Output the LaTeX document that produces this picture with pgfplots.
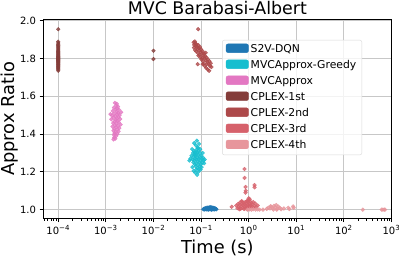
\documentclass[border=0pt]{standalone}
\usepackage{fontspec}
\setmainfont{DejaVu Sans}
\usepackage{pgfplots}
\pgfplotsset{compat=1.18}
\definecolor{cS2V}{HTML}{1F77B4}
\definecolor{cGreedy}{HTML}{17BECF}
\definecolor{cApprox}{HTML}{E377C2}
\definecolor{cOne}{HTML}{843C39}
\definecolor{cTwo}{HTML}{AD494A}
\definecolor{cThree}{HTML}{D6616B}
\definecolor{cFour}{HTML}{E7969C}
\begin{document}
\begin{tikzpicture}
\useasboundingbox (-43pt,-38.3pt) rectangle (356pt,218.7pt);
\begin{axis}[
  scale only axis, width=348.7pt, height=199.5pt,
  at={(0,0)}, anchor=south west,
  xmode=log, xmin=4.786e-5, xmax=1011.6,
  ymin=0.952, ymax=2.008,
  ytick={1.0,1.2,1.4,1.6,1.8,2.0},
  yticklabels={1.0,1.2,1.4,1.6,1.8,2.0},
  xtick={1e-4,1e-3,1e-2,1e-1,1,10,100,1000},
  xticklabels={10\textsuperscript{−4},10\textsuperscript{−3},10\textsuperscript{−2},10\textsuperscript{−1},10\textsuperscript{0},10\textsuperscript{1},10\textsuperscript{2},10\textsuperscript{3}},
  minor xtick={5e-5,6e-5,7e-5,8e-5,9e-5,2e-4,3e-4,4e-4,5e-4,6e-4,7e-4,8e-4,9e-4,2e-3,3e-3,4e-3,5e-3,6e-3,7e-3,8e-3,9e-3,0.02,0.03,0.04,0.05,0.06,0.07,0.08,0.09,0.2,0.3,0.4,0.5,0.6,0.7,0.8,0.9,2,3,4,5,6,7,8,9,20,30,40,50,60,70,80,90,200,300,400,500,600,700,800,900},
  tick pos=left, tick align=outside,
  major tick length=3.5pt, minor tick length=2pt,
  every tick/.style={black, line width=0.8pt},
  minor tick style={line width=0.6pt},
  axis line style={black, line width=0.8pt},
  xmajorgrids, ymajorgrids, xminorgrids=false,
  major grid style={color=black!22, line width=0.8pt},
  tick label style={font=\fontsize{10}{12}\selectfont},
  title={MVC Barabasi-Albert},
  title style={font=\fontsize{17.4}{20}\selectfont, at={(axis description cs:0.5,1)}, anchor=base, yshift=-1.8pt},
  xlabel={Time (s)},
  xlabel style={font=\fontsize{17.8}{21}\selectfont, at={(axis description cs:0.5,-0.1754)}, anchor=base},
  ylabel={Approx Ratio},
  ylabel style={font=\fontsize{17.8}{21}\selectfont, at={(axis description cs:-0.081,0.5)}, anchor=base},
  legend cell align=left,
  legend style={at={(0.915,0.896)}, anchor=north east, draw=black!15, rounded corners=2pt,
    fill=white, fill opacity=0.8, text opacity=1, font=\fontsize{10.8}{12}\selectfont,
    inner xsep=3.5pt, inner ysep=2.5pt, row sep=2.4pt,
    /tikz/every even column/.append style={column sep=6pt}},
  legend image code/.code={\fill[#1, opacity=1] (0pt,-3.2pt) rectangle (22.5pt,5.5pt);},
  every axis plot/.append style={only marks, mark=*, mark size=1.9pt, opacity=0.8},
]
% S2V-DQN
\addplot[color=cS2V] coordinates {
(0.112,1.002)(0.115,1.004)(0.118,1.001)(0.120,1.006)(0.123,1.003)(0.125,1.008)(0.128,1.001)(0.130,1.005)
(0.133,1.010)(0.135,1.002)(0.138,1.007)(0.140,1.011)(0.142,1.000)(0.145,1.004)(0.147,1.009)(0.150,1.012)
(0.152,1.002)(0.155,1.006)(0.157,1.010)(0.160,1.013)(0.162,1.001)(0.165,1.005)(0.167,1.009)(0.170,1.011)
(0.172,1.003)(0.175,1.007)(0.178,1.010)(0.180,1.002)(0.183,1.006)(0.186,1.009)(0.190,1.001)(0.193,1.005)
(0.197,1.007)(0.200,1.003)(0.205,1.004)(0.210,1.002)(0.143,1.007)(0.158,1.003)(0.168,1.000)(0.127,1.005)
};
\addlegendentry{S2V-DQN}
% MVCApprox-Greedy
\addplot[color=cGreedy] coordinates {
(0.082,1.365)(0.072,1.352)(0.091,1.348)(0.078,1.340)(0.083,1.184)(0.076,1.195)(0.088,1.200)(0.070,1.205)
(0.065,1.320)(0.068,1.300)(0.070,1.280)(0.072,1.260)(0.074,1.240)(0.066,1.225)(0.069,1.250)(0.071,1.310)
(0.073,1.290)(0.075,1.270)(0.077,1.230)(0.079,1.315)(0.081,1.295)(0.083,1.275)(0.085,1.255)(0.087,1.235)
(0.076,1.285)(0.078,1.245)(0.080,1.265)(0.082,1.305)(0.084,1.220)(0.086,1.325)(0.088,1.290)(0.090,1.270)
(0.092,1.250)(0.094,1.230)(0.089,1.310)(0.091,1.215)(0.093,1.280)(0.095,1.300)(0.097,1.260)(0.099,1.240)
(0.101,1.285)(0.104,1.270)(0.107,1.250)(0.110,1.275)(0.113,1.260)(0.116,1.245)(0.119,1.265)(0.103,1.225)
(0.096,1.320)(0.085,1.330)(0.074,1.300)(0.067,1.265)(0.063,1.285)(0.060,1.270)(0.057,1.260)(0.079,1.212)
(0.098,1.212)(0.108,1.300)
};
\addlegendentry{MVCApprox-Greedy}
% MVCApprox
\addplot[color=cApprox] coordinates {
(0.00155,1.565)(0.00165,1.550)(0.00180,1.545)(0.00148,1.540)(0.00172,1.535)(0.00160,1.530)(0.00190,1.528)
(0.00140,1.522)(0.00168,1.518)(0.00182,1.512)(0.00150,1.508)(0.00175,1.502)(0.00195,1.500)(0.00135,1.498)
(0.00158,1.495)(0.00185,1.490)(0.00145,1.487)(0.00170,1.483)(0.00200,1.480)(0.00130,1.478)(0.00162,1.475)
(0.00178,1.470)(0.00152,1.466)(0.00188,1.462)(0.00142,1.458)(0.00167,1.455)(0.00205,1.450)(0.00155,1.447)
(0.00180,1.443)(0.00138,1.440)(0.00163,1.436)(0.00192,1.432)(0.00150,1.428)(0.00173,1.424)(0.00145,1.418)
(0.00185,1.414)(0.00160,1.410)(0.00152,1.405)(0.00175,1.400)(0.00148,1.395)(0.00165,1.390)(0.00150,1.382)
(0.00158,1.376)(0.00145,1.372)(0.00210,1.515)(0.00125,1.505)(0.00170,1.560)
};
\addlegendentry{MVCApprox}
% CPLEX-1st
\addplot[color=cOne] coordinates {
(0.0001,1.735)(0.0001,1.742)(0.0001,1.748)(0.0001,1.751)(0.0001,1.756)(0.0001,1.760)(0.0001,1.764)
(0.0001,1.768)(0.0001,1.771)(0.0001,1.775)(0.0001,1.779)(0.0001,1.782)(0.0001,1.786)(0.0001,1.789)
(0.0001,1.792)(0.0001,1.795)(0.0001,1.798)(0.0001,1.801)(0.0001,1.804)(0.0001,1.807)(0.0001,1.810)
(0.0001,1.813)(0.0001,1.817)(0.0001,1.820)(0.0001,1.824)(0.0001,1.828)(0.0001,1.832)(0.0001,1.836)
(0.0001,1.840)(0.0001,1.845)(0.0001,1.850)(0.0001,1.856)(0.0001,1.862)(0.0001,1.868)(0.0001,1.875)
(0.0001,1.882)(0.0001,1.889)(0.0001,1.955)(0.01,1.841)(0.01,1.797)
};
\addlegendentry{CPLEX-1st}
% CPLEX-2nd
\addplot[color=cTwo] coordinates {
(0.087,1.955)(0.070,1.885)(0.072,1.872)(0.074,1.890)(0.071,1.858)(0.076,1.880)(0.078,1.866)(0.080,1.875)
(0.075,1.845)(0.082,1.862)(0.084,1.850)(0.079,1.838)(0.088,1.870)(0.090,1.855)(0.086,1.828)(0.092,1.842)
(0.095,1.860)(0.098,1.835)(0.093,1.818)(0.100,1.848)(0.104,1.826)(0.097,1.806)(0.108,1.838)(0.112,1.815)
(0.102,1.795)(0.106,1.802)(0.115,1.826)(0.118,1.800)(0.110,1.785)(0.122,1.812)(0.126,1.790)(0.114,1.772)
(0.130,1.805)(0.135,1.782)(0.120,1.760)(0.140,1.795)(0.145,1.770)(0.128,1.750)(0.150,1.785)(0.155,1.760)
(0.138,1.742)(0.160,1.775)(0.148,1.735)(0.165,1.755)(0.132,1.770)(0.108,1.770)(0.125,1.830)(0.088,1.815)
(0.085,1.770)
};
\addlegendentry{CPLEX-2nd}
% CPLEX-3rd
\addplot[color=cThree] coordinates {
(0.82,1.215)(0.82,1.168)(0.86,1.120)(0.87,1.100)(0.86,1.090)(1.33,1.130)(1.33,1.118)(1.00,1.060)
(0.44,1.015)(0.55,1.022)(0.60,1.030)(0.62,1.012)(0.65,1.025)(0.66,1.038)(0.68,1.005)(0.70,1.018)
(0.72,1.032)(0.73,1.042)(0.75,1.010)(0.76,1.024)(0.78,1.036)(0.80,1.003)(0.81,1.015)(0.83,1.028)
(0.85,1.040)(0.87,1.008)(0.88,1.020)(0.90,1.033)(0.92,1.045)(0.94,1.012)(0.96,1.025)(0.98,1.038)
(1.00,1.050)(1.02,1.005)(1.04,1.018)(1.06,1.030)(1.08,1.043)(1.10,1.010)(1.12,1.022)(1.15,1.035)
(1.18,1.015)(1.20,1.028)(1.25,1.040)(1.28,1.008)(1.32,1.020)(1.38,1.032)(1.45,1.012)(1.55,1.022)
(0.58,1.008)(0.64,1.002)(0.71,1.045)(0.93,1.002)(1.05,1.055)(0.97,1.048)
};
\addlegendentry{CPLEX-3rd}
% CPLEX-4th
\addplot[color=cFour] coordinates {
(0.95,1.000)(1.05,1.001)(1.15,1.000)(1.25,1.002)(1.40,1.000)(1.55,1.001)(1.70,1.000)(2.0,1.000)
(2.4,1.004)(2.6,1.010)(2.8,1.006)(3.0,1.015)(3.2,1.008)(3.4,1.020)(3.6,1.012)(3.8,1.024)
(4.0,1.005)(4.2,1.016)(4.5,1.010)(4.8,1.002)(3.3,1.000)(2.9,1.018)(3.9,1.000)(5.5,1.006)
(6.8,1.010)(7.2,1.003)(8.6,1.017)(8.8,1.010)(250,1.000)(620,1.000)(660,1.000)(700,1.000)(730,1.000)
};
\addlegendentry{CPLEX-4th}
\end{axis}
\end{tikzpicture}
\end{document}
